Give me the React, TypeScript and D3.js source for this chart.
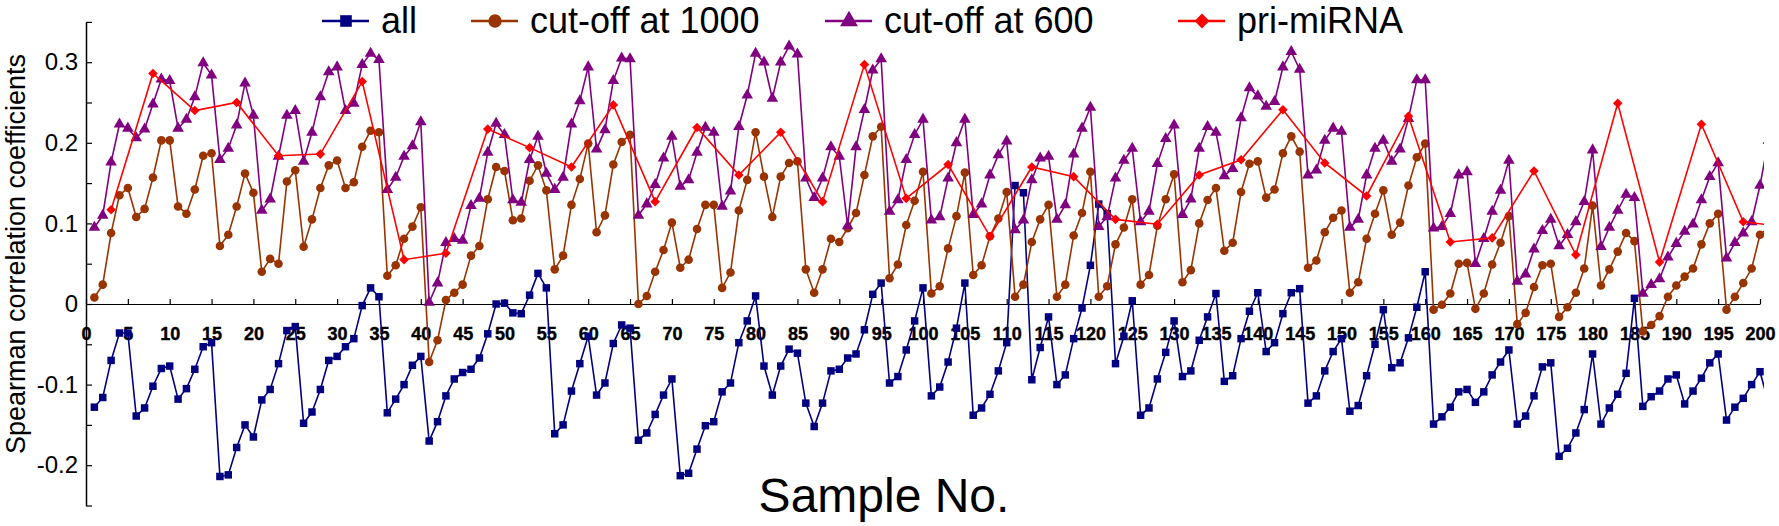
import { useEffect, useRef } from "react"
import * as d3 from "d3"

// sample numbers 1..201 (201 is cut off by the plot edge)
const samples = d3.range(1, 202)

const allValues = [
  -0.128, -0.116, -0.070, -0.036, -0.036, -0.139, -0.129, -0.102, -0.080, -0.077,
  -0.118, -0.105, -0.081, -0.053, -0.048, -0.214, -0.212, -0.178, -0.150, -0.165,
  -0.119, -0.106, -0.074, -0.033, -0.028, -0.148, -0.134, -0.106, -0.070, -0.065,
  -0.053, -0.043, -0.002, 0.020, 0.009, -0.135, -0.118, -0.100, -0.076, -0.065,
  -0.170, -0.146, -0.114, -0.093, -0.085, -0.081, -0.067, -0.037, 0.000, 0.001,
  -0.011, -0.012, 0.011, 0.038, 0.020, -0.161, -0.150, -0.108, -0.074, -0.040,
  -0.113, -0.098, -0.049, -0.026, -0.030, -0.169, -0.160, -0.137, -0.113, -0.093,
  -0.213, -0.210, -0.180, -0.151, -0.146, -0.109, -0.098, -0.048, -0.021, 0.010,
  -0.077, -0.113, -0.077, -0.056, -0.061, -0.123, -0.152, -0.123, -0.083, -0.081,
  -0.067, -0.062, -0.032, 0.012, 0.026, -0.098, -0.090, -0.057, -0.021, 0.020,
  -0.114, -0.103, -0.072, -0.030, 0.026, -0.138, -0.129, -0.112, -0.083, -0.048,
  0.147, 0.138, -0.094, -0.054, -0.016, -0.100, -0.088, -0.043, -0.005, 0.048,
  0.124, 0.112, -0.074, -0.040, 0.004, -0.138, -0.129, -0.093, -0.060, -0.021,
  -0.090, -0.083, -0.045, -0.016, 0.013, -0.096, -0.089, -0.043, -0.009, 0.014,
  -0.059, -0.048, -0.012, 0.014, 0.019, -0.123, -0.114, -0.083, -0.059, -0.043,
  -0.133, -0.126, -0.089, -0.050, -0.007, -0.079, -0.073, -0.042, -0.004, 0.040,
  -0.149, -0.140, -0.128, -0.109, -0.106, -0.122, -0.109, -0.088, -0.072, -0.057,
  -0.149, -0.139, -0.114, -0.078, -0.073, -0.189, -0.179, -0.160, -0.131, -0.062,
  -0.149, -0.129, -0.112, -0.086, 0.007, -0.127, -0.115, -0.108, -0.093, -0.088,
  -0.124, -0.108, -0.092, -0.073, -0.062, -0.144, -0.128, -0.117, -0.100, -0.084,
  -0.122,
]

const cut1000Values = [
  0.008, 0.024, 0.088, 0.135, 0.144, 0.108, 0.118, 0.157, 0.203, 0.203,
  0.121, 0.112, 0.142, 0.184, 0.187, 0.072, 0.086, 0.121, 0.162, 0.138,
  0.040, 0.056, 0.050, 0.152, 0.166, 0.071, 0.105, 0.144, 0.172, 0.178,
  0.144, 0.151, 0.195, 0.215, 0.213, 0.035, 0.048, 0.081, 0.096, 0.120,
  -0.072, -0.045, 0.005, 0.014, 0.024, 0.060, 0.072, 0.130, 0.170, 0.165,
  0.104, 0.106, 0.153, 0.172, 0.141, 0.043, 0.060, 0.123, 0.155, 0.199,
  0.089, 0.110, 0.173, 0.201, 0.210, 0.000, 0.010, 0.040, 0.067, 0.101,
  0.045, 0.055, 0.093, 0.123, 0.123, 0.020, 0.039, 0.116, 0.154, 0.213,
  0.158, 0.108, 0.158, 0.175, 0.177, 0.043, 0.014, 0.043, 0.081, 0.077,
  0.094, 0.113, 0.160, 0.208, 0.220, 0.032, 0.049, 0.098, 0.128, 0.164,
  0.013, 0.022, 0.069, 0.109, 0.163, 0.036, 0.048, 0.084, 0.106, 0.139,
  0.009, 0.024, 0.077, 0.105, 0.123, 0.009, 0.024, 0.085, 0.113, 0.164,
  0.009, 0.022, 0.074, 0.095, 0.130, 0.024, 0.036, 0.097, 0.130, 0.161,
  0.027, 0.042, 0.100, 0.129, 0.144, 0.066, 0.076, 0.139, 0.174, 0.177,
  0.132, 0.142, 0.187, 0.208, 0.189, 0.045, 0.054, 0.089, 0.107, 0.116,
  0.014, 0.027, 0.081, 0.112, 0.141, 0.086, 0.101, 0.147, 0.182, 0.199,
  -0.007, -0.001, 0.013, 0.050, 0.051, -0.006, 0.013, 0.049, 0.076, 0.109,
  -0.025, -0.011, 0.021, 0.048, 0.050, -0.016, -0.004, 0.014, 0.044, 0.122,
  0.023, 0.043, 0.065, 0.088, 0.078, -0.034, -0.026, -0.015, 0.009, 0.023,
  0.034, 0.044, 0.074, 0.100, 0.112, -0.007, 0.009, 0.026, 0.044, 0.086,
  0.095,
]

const cut600Values = [
  0.095, 0.110, 0.176, 0.223, 0.218, 0.206, 0.217, 0.248, 0.279, 0.277,
  0.218, 0.229, 0.257, 0.299, 0.284, 0.179, 0.193, 0.222, 0.274, 0.234,
  0.116, 0.130, 0.183, 0.234, 0.240, 0.177, 0.213, 0.257, 0.288, 0.294,
  0.240, 0.249, 0.297, 0.311, 0.303, 0.142, 0.157, 0.183, 0.196, 0.226,
  0.002, 0.026, 0.076, 0.081, 0.079, 0.122, 0.131, 0.188, 0.224, 0.210,
  0.129, 0.126, 0.179, 0.208, 0.162, 0.142, 0.157, 0.223, 0.252, 0.294,
  0.192, 0.216, 0.277, 0.305, 0.304, 0.110, 0.124, 0.148, 0.181, 0.208,
  0.146, 0.154, 0.188, 0.219, 0.213, 0.121, 0.140, 0.220, 0.259, 0.311,
  0.300, 0.255, 0.300, 0.320, 0.310, 0.156, 0.132, 0.156, 0.195, 0.183,
  0.097, 0.195, 0.241, 0.290, 0.304, 0.115, 0.129, 0.179, 0.210, 0.229,
  0.104, 0.108, 0.156, 0.200, 0.229, 0.111, 0.124, 0.160, 0.185, 0.202,
  0.092, 0.104, 0.154, 0.181, 0.183, 0.105, 0.123, 0.186, 0.218, 0.244,
  0.096, 0.108, 0.156, 0.178, 0.193, 0.102, 0.115, 0.174, 0.205, 0.222,
  0.111, 0.130, 0.193, 0.220, 0.213, 0.159, 0.168, 0.231, 0.268, 0.258,
  0.245, 0.251, 0.294, 0.313, 0.291, 0.160, 0.166, 0.203, 0.218, 0.214,
  0.095, 0.105, 0.160, 0.193, 0.203, 0.177, 0.192, 0.230, 0.278, 0.278,
  0.094, 0.096, 0.112, 0.160, 0.164, 0.050, 0.081, 0.115, 0.141, 0.178,
  0.028, 0.037, 0.068, 0.091, 0.105, 0.072, 0.086, 0.102, 0.127, 0.191,
  0.071, 0.095, 0.116, 0.136, 0.132, 0.013, 0.024, 0.031, 0.058, 0.075,
  0.090, 0.099, 0.129, 0.158, 0.175, 0.057, 0.076, 0.088, 0.102, 0.147,
  0.203,
]

// pri-miRNA is only measured every fifth sample
const priSamples = [
  3, 8, 13, 18, 23, 28, 33, 38, 43, 48, 53, 58, 63, 68, 73, 78, 83, 88, 93, 98,
  103, 108, 113, 118, 123, 128, 133, 138, 143, 148, 153, 158, 163, 168, 173, 178,
  183, 188, 193, 198, 203,
]
const priValues = [
  0.117, 0.286, 0.240, 0.250, 0.184, 0.186, 0.276, 0.055, 0.063, 0.217,
  0.194, 0.170, 0.247, 0.127, 0.219, 0.160, 0.213, 0.127, 0.297, 0.131,
  0.173, 0.084, 0.170, 0.158, 0.105, 0.099, 0.160, 0.179, 0.241, 0.175,
  0.134, 0.233, 0.077, 0.082, 0.165, 0.061, 0.249, 0.052, 0.223, 0.102,
  0.096,
]

const xTickValues = d3.range(0, 201, 5)
const yMinorTicks = [-0.25, -0.2, -0.15, -0.1, -0.05, 0, 0.05, 0.1, 0.15, 0.2, 0.25, 0.3, 0.35]
const yLabelTicks = [-0.2, -0.1, 0, 0.1, 0.2, 0.3]

type Series = {
  name: string
  color: string
  symbol: d3.SymbolType
  size: number
  rotate: number
  xs: number[]
  ys: number[]
}

const series: Series[] = [
  { name: "all", color: "#000080", symbol: d3.symbolSquare, size: 56, rotate: 0, xs: samples, ys: allValues },
  { name: "cut-off at 1000", color: "#993300", symbol: d3.symbolCircle, size: 58, rotate: 0, xs: samples, ys: cut1000Values },
  { name: "cut-off at 600", color: "#800080", symbol: d3.symbolTriangle, size: 58, rotate: 0, xs: samples, ys: cut600Values },
  { name: "pri-miRNA", color: "#ff0000", symbol: d3.symbolSquare, size: 46, rotate: 45, xs: priSamples, ys: priValues },
]

const legendTextX = [381, 530, 884, 1237]

export default function App() {
  const svgRef = useRef<SVGSVGElement | null>(null)

  useEffect(() => {
    if (!svgRef.current) return
    document.body.style.margin = "0"

    const width = 1779
    const height = 526
    const font = "'Liberation Sans', Arial, sans-serif"

    const svg = d3.select(svgRef.current).attr("width", width).attr("height", height)
    svg.selectAll("*").remove()
    svg.append("rect").attr("width", width).attr("height", height).attr("fill", "#fff")

    const x = d3.scaleLinear().domain([0, 200]).range([86, 1760])
    const y = d3.scaleLinear().domain([-0.25, 0.35]).range([505.5, 21.9])

    svg
      .append("clipPath")
      .attr("id", "plot-clip")
      .append("rect")
      .attr("x", 70)
      .attr("y", 0)
      .attr("width", 1764 - 70)
      .attr("height", height)

    // Y axis: inside ticks every 0.05
    const yAxis = svg
      .append("g")
      .attr("transform", "translate(86,0)")
      .call(d3.axisRight(y).tickValues(yMinorTicks).tickSize(6).tickSizeOuter(0).tickFormat(() => ""))
    yAxis.select(".domain").attr("stroke", "#000").attr("stroke-width", 1.5)
    yAxis.selectAll(".tick line").attr("stroke", "#000").attr("stroke-width", 1.2)

    // Y labels
    const yLabels = svg
      .append("g")
      .attr("transform", "translate(86,0)")
      .call(
        d3
          .axisLeft(y)
          .tickValues(yLabelTicks)
          .tickSize(0)
          .tickPadding(8)
          .tickFormat(v => (+v === 0 ? "0" : String(+(+v).toFixed(1))))
      )
    yLabels.select(".domain").remove()
    yLabels.selectAll("text").attr("font-family", font).attr("font-size", 24).attr("fill", "#000")

    // X axis at y = 0, ticks pointing up, bold labels below
    const xAxis = svg
      .append("g")
      .attr("transform", `translate(0,${y(0)})`)
      .call(d3.axisBottom(x).tickValues(xTickValues).tickSize(-5).tickSizeOuter(0).tickPadding(23))
    xAxis.select(".domain").attr("stroke", "#000").attr("stroke-width", 1.2)
    xAxis.selectAll(".tick line").attr("stroke", "#000").attr("stroke-width", 1.2)
    xAxis
      .selectAll("text")
      .attr("font-family", font)
      .attr("font-size", 18)
      .attr("font-weight", "bold")
      .attr("stroke", "#000")
      .attr("stroke-width", 0.4)
      .attr("fill", "#000")

    // Series
    const plot = svg.append("g").attr("clip-path", "url(#plot-clip)")
    series.forEach(s => {
      const pts = s.xs.map((sx, i) => [sx, s.ys[i]] as [number, number])
      const line = d3
        .line<[number, number]>()
        .x(d => x(d[0]))
        .y(d => y(d[1]))
      plot
        .append("path")
        .datum(pts)
        .attr("fill", "none")
        .attr("stroke", s.color)
        .attr("stroke-width", 1.6)
        .attr("d", line)
      plot
        .append("g")
        .selectAll("path")
        .data(pts)
        .join("path")
        .attr("d", d3.symbol(s.symbol, s.size)())
        .attr("transform", d => `translate(${x(d[0])},${y(d[1])}) rotate(${s.rotate})`)
        .attr("fill", s.color)
    })

    // Legend
    const legend = svg.append("g")
    series.forEach((s, i) => {
      const tx = legendTextX[i]
      const cy = 21
      legend
        .append("line")
        .attr("x1", tx - 59)
        .attr("x2", tx - 12)
        .attr("y1", cy)
        .attr("y2", cy)
        .attr("stroke", s.color)
        .attr("stroke-width", 2.5)
      legend
        .append("path")
        .attr("d", d3.symbol(s.symbol, s.size * 2.4)())
        .attr("transform", `translate(${tx - 35},${cy}) rotate(${s.rotate})`)
        .attr("fill", s.color)
      legend
        .append("text")
        .attr("x", tx)
        .attr("y", 33)
        .attr("font-family", font)
        .attr("font-size", 36)
        .attr("fill", "#000")
        .text(s.name)
    })

    // Axis titles
    svg
      .append("text")
      .attr("transform", "translate(25,254) rotate(-90)")
      .attr("text-anchor", "middle")
      .attr("font-family", font)
      .attr("font-size", 27)
      .attr("fill", "#000")
      .text("Spearman correlation coefficients")

    svg
      .append("text")
      .attr("x", 884)
      .attr("y", 512)
      .attr("text-anchor", "middle")
      .attr("font-family", font)
      .attr("font-size", 48)
      .attr("fill", "#000")
      .text("Sample No.")
  }, [])

  return (
    <div style={{ width: 1779, height: 526 }}>
      <svg ref={svgRef} />
    </div>
  )
}
